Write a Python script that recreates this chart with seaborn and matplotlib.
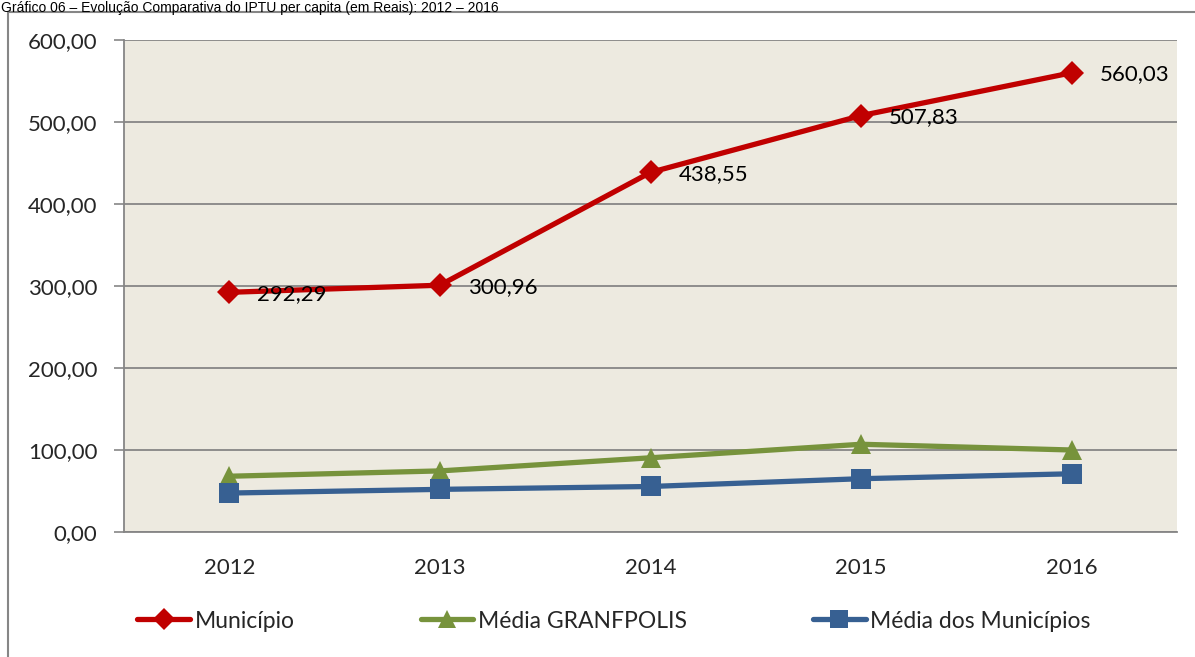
import matplotlib
matplotlib.use("Agg")
import matplotlib.pyplot as plt
import seaborn as sns
import pandas as pd
from matplotlib.patches import Rectangle
from matplotlib.ticker import FixedLocator, FuncFormatter

years = ["2012", "2013", "2014", "2015", "2016"]
municipio = [292.29, 300.96, 438.55, 507.83, 560.03]
media_granfpolis = [68.0, 74.5, 90.5, 107.0, 100.0]
media_municipios = [47.5, 52.0, 55.5, 65.0, 71.0]
series_names = ["Município", "Média GRANFPOLIS", "Média dos Municípios"]
yticks = [0, 100, 200, 300, 400, 500, 600]
title = "Gráfico 06 – Evolução Comparativa do IPTU per capita (em Reais): 2012 – 2016"

sns.set_theme(style="white")
plt.rcParams['font.family'] = ['Lato', 'DejaVu Sans']

W, H = 1195, 657
fig = plt.figure(figsize=(W / 100, H / 100), dpi=100)
fig.patch.set_facecolor("white")
ax = fig.add_axes([124 / W, 1 - 532 / H, (1177 - 124) / W, (532 - 40) / H])
ax.set_facecolor("#EDEAE0")

x = list(range(len(years)))
colors = ["#C00000", "#77933C", "#376092"]
markers = ["D", "^", "s"]
msizes = [12, 15, 15]
data = [municipio, media_granfpolis, media_municipios]

for name, vals, c, m, ms in zip(series_names, data, colors, markers, msizes):
    df = pd.DataFrame({"x": x, "y": vals})
    sns.lineplot(data=df, x="x", y="y", ax=ax, color=c, linewidth=3.8,
                 marker=m, markersize=ms, markeredgewidth=0, label=name,
                 legend=False, zorder=3)

for xi, v in zip(x, municipio):
    ax.annotate(f"{v:.2f}".replace(".", ","), (xi, v), xytext=(20, -1),
                textcoords="offset points", va="center", ha="left",
                fontsize=16, color="black", zorder=4)

ax.set_xlim(-0.5, len(years) - 0.5)
ax.set_ylim(0, 600)
ax.yaxis.set_major_locator(FixedLocator(yticks))
ax.yaxis.set_major_formatter(FuncFormatter(lambda v, p: f"{v:.2f}".replace(".", ",")))
ax.set_xticks(x)
ax.set_xticklabels(years)
ax.set_xticks([i - 0.5 for i in range(len(years) + 1)], minor=True)
ax.tick_params(axis="x", which="major", length=0, pad=19, labelsize=16)
ax.tick_params(axis="x", which="minor", length=7, width=1.2, color="#868686", direction="out")
ax.tick_params(axis="y", which="major", length=7, width=1.2, color="#868686", direction="out",
               labelsize=16, pad=12, left=True)
ax.grid(axis="y", color="#868686", linewidth=1.3, zorder=0)
ax.set_axisbelow(True)
ax.set_xlabel("")
ax.set_ylabel("")
for s in ["top", "right"]:
    ax.spines[s].set_visible(False)
for s in ["left", "bottom"]:
    ax.spines[s].set_color("#868686")
    ax.spines[s].set_linewidth(1.3)

handles, labels = ax.get_legend_handles_labels()
fig.legend(handles, labels, loc="center", bbox_to_anchor=(614 / W, 1 - 621 / H),
           ncol=3, frameon=False, fontsize=16.5, handlelength=2.3, handletextpad=0.2,
           columnspacing=5.5, markerscale=0.9)

fig.patches.append(Rectangle((8 / W, -0.05), 1.1, 1 - 12 / H + 0.05, transform=fig.transFigure,
                             fill=False, edgecolor="#868686", linewidth=1.5))
fig.text(1 / W, 1 - 1 / H, title, fontsize=10, va="top", ha="left",
         family=["Liberation Sans", "DejaVu Sans"], color="black")

fig.savefig("out.png", dpi=100, facecolor="white")
